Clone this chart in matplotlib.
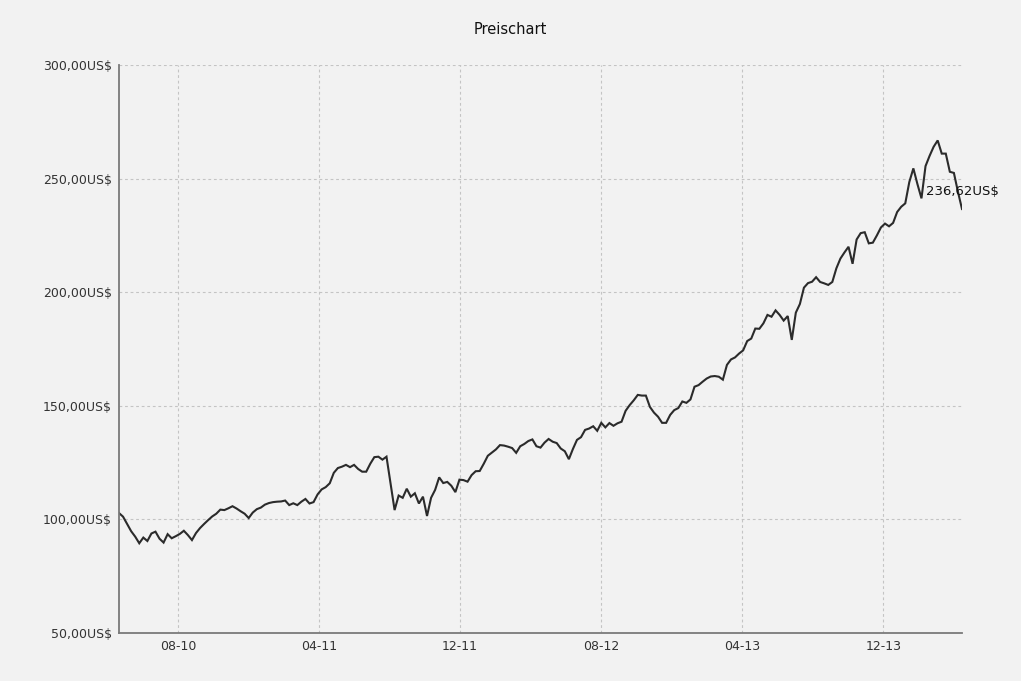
import matplotlib
matplotlib.use("Agg")
import matplotlib.pyplot as plt
import matplotlib.dates as mdates
import matplotlib.ticker as mticker
import pandas as pd

# ---- data (weekly closes) ----
start_date = "2010-04-21"
end_date = "2014-04-16"
prices = [
    102.8, 101.2, 98.0, 94.8, 92.4, 89.5, 92.0, 90.5, 93.8, 94.6,
    91.5, 89.8, 93.5, 91.7, 92.6, 93.6, 95.0, 93.1, 90.9, 94.0,
    96.2, 98.0, 99.7, 101.3, 102.5, 104.3, 104.1, 104.9, 105.8, 104.8,
    103.6, 102.5, 100.6, 103.0, 104.5, 105.2, 106.5, 107.2, 107.6, 107.8,
    107.9, 108.3, 106.3, 107.1, 106.3, 107.8, 109.0, 107.0, 107.6, 111.0,
    113.2, 114.2, 115.9, 120.5, 122.6, 123.2, 124.0, 123.0, 124.0, 122.2,
    121.0, 121.0, 124.5, 127.4, 127.6, 126.3, 127.6, 116.0, 104.1, 110.5,
    109.5, 113.5, 110.0, 111.5, 107.0, 110.0, 101.5, 109.5, 113.0, 118.5,
    116.0, 116.5, 114.8, 112.0, 117.5, 117.3, 116.6, 119.5, 121.2, 121.3,
    124.5, 128.0, 129.4, 130.8, 132.7, 132.5, 132.0, 131.4, 129.3, 132.2,
    133.2, 134.5, 135.2, 132.2, 131.6, 133.8, 135.4, 134.2, 133.6, 131.2,
    130.0, 126.5, 131.0, 135.0, 136.2, 139.4, 140.0, 141.0, 139.0, 142.5,
    140.5, 142.4, 141.2, 142.3, 143.0, 147.8, 150.3, 152.4, 154.8, 154.5,
    154.5, 149.5, 147.0, 145.2, 142.5, 142.5, 146.0, 148.1, 149.0, 151.9,
    151.3, 152.8, 158.4, 159.1, 160.6, 162.0, 162.9, 163.1, 162.8, 161.5,
    168.0, 170.4, 171.3, 173.0, 174.4, 178.5, 179.6, 184.0, 183.9, 186.3,
    190.0, 189.2, 192.0, 190.0, 187.5, 189.5, 179.0, 191.0, 194.8, 202.0,
    204.0, 204.6, 206.6, 204.5, 203.9, 203.2, 204.5, 210.5, 214.8, 217.5,
    220.0, 212.5, 223.2, 226.0, 226.4, 221.5, 221.8, 225.0, 228.5, 230.2,
    229.0, 230.5, 235.3, 237.6, 239.1, 248.5, 254.5, 247.6, 241.3, 255.5,
    260.0, 264.0, 266.8, 261.0, 261.0, 253.0, 252.5, 244.2, 236.62,
]
x_tick_dates = ["2010-08-01", "2011-04-01", "2011-12-01",
                "2012-08-01", "2013-04-01", "2013-12-01"]
y_ticks = [50, 100, 150, 200, 250, 300]
title = "Preischart"
last_label = "236,62US$"

dates = pd.date_range(start_date, end_date, periods=len(prices))

# ---- figure ----
bg = "#f2f2f2"
fig = plt.figure(figsize=(10.21, 6.81), dpi=100, facecolor=bg)
ax = fig.add_axes([119/1021, 1-633/681, (962-119)/1021, (633-65)/681])
ax.set_facecolor(bg)

ax.plot(dates, prices, color="#2b2b2b", lw=1.5, solid_joinstyle="miter")

ax.set_xlim(dates[0], dates[-1])
ax.set_ylim(y_ticks[0], y_ticks[-1])

ax.set_xticks(pd.to_datetime(x_tick_dates))
ax.xaxis.set_major_formatter(mdates.DateFormatter("%m-%y"))
ax.set_yticks(y_ticks)
ax.yaxis.set_major_formatter(mticker.FuncFormatter(lambda v, p: f"{v:.2f}".replace(".", ",") + "US$"))

ax.grid(True, color="#c4c4c4", linestyle=(0, (2.5, 2.5)), lw=0.8)
ax.set_axisbelow(True)
for s in ("top", "right"):
    ax.spines[s].set_visible(False)
for s in ("left", "bottom"):
    ax.spines[s].set_color("#7a7a7a")
    ax.spines[s].set_linewidth(1.3)

ax.tick_params(axis="both", length=0, labelsize=9, labelcolor="#333333")
ax.tick_params(axis="y", pad=5)
ax.tick_params(axis="x", pad=5)

ax.annotate(last_label, xy=(dates[-1], prices[-1]), xytext=(-36, 17),
            textcoords="offset pixels", ha="left", va="center",
            fontsize=9.5, color="#111111")

fig.text(0.5, 1 - 30/681, title, ha="center", va="center", fontsize=10.5, color="#111111")

fig.savefig("out.png", dpi=100, facecolor=bg)
